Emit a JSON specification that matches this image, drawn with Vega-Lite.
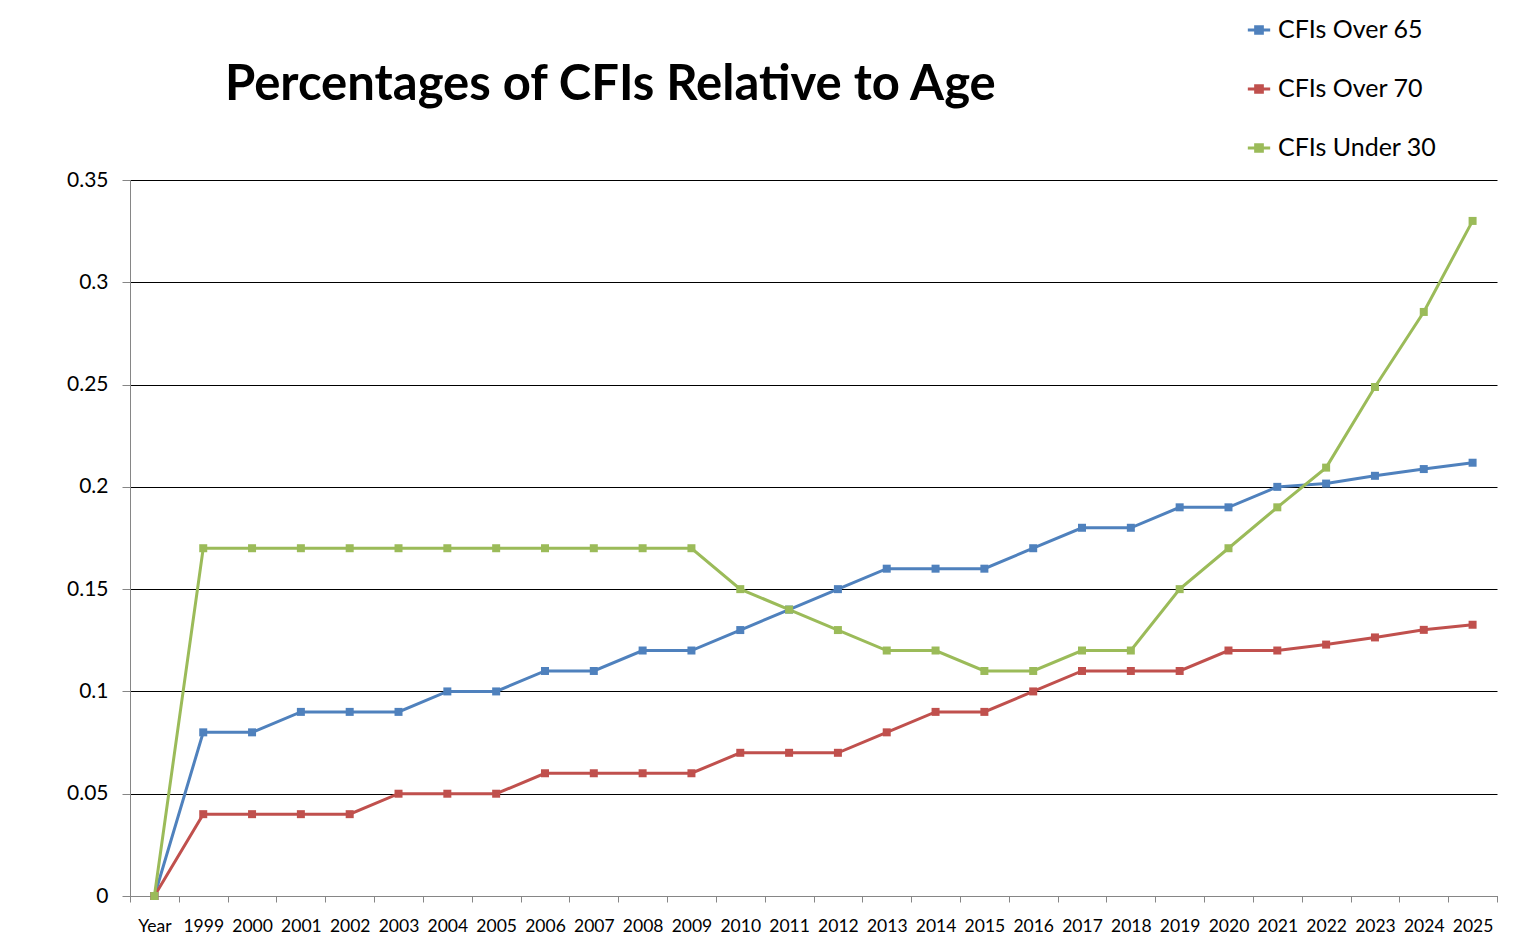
{
  "$schema": "https://vega.github.io/schema/vega-lite/v6.json",
  "width": 1367,
  "height": 716,
  "autosize": {"type": "none"},
  "padding": {"left": 130, "top": 180, "right": 36, "bottom": 56},
  "background": "white",
  "title": {
    "text": "Percentages of CFIs Relative to Age",
    "anchor": "start",
    "frame": "group",
    "dx": 95,
    "dy": 93,
    "offset": 0,
    "font": "Lato",
    "fontSize": 49,
    "fontWeight": "bold",
    "color": "black"
  },
  "data": {
    "values": [
      {"year": "Year", "series": "CFIs Over 65", "value": 0},
      {"year": "1999", "series": "CFIs Over 65", "value": 0.08},
      {"year": "2000", "series": "CFIs Over 65", "value": 0.08},
      {"year": "2001", "series": "CFIs Over 65", "value": 0.09},
      {"year": "2002", "series": "CFIs Over 65", "value": 0.09},
      {"year": "2003", "series": "CFIs Over 65", "value": 0.09},
      {"year": "2004", "series": "CFIs Over 65", "value": 0.10},
      {"year": "2005", "series": "CFIs Over 65", "value": 0.10},
      {"year": "2006", "series": "CFIs Over 65", "value": 0.11},
      {"year": "2007", "series": "CFIs Over 65", "value": 0.11},
      {"year": "2008", "series": "CFIs Over 65", "value": 0.12},
      {"year": "2009", "series": "CFIs Over 65", "value": 0.12},
      {"year": "2010", "series": "CFIs Over 65", "value": 0.13},
      {"year": "2011", "series": "CFIs Over 65", "value": 0.14},
      {"year": "2012", "series": "CFIs Over 65", "value": 0.15},
      {"year": "2013", "series": "CFIs Over 65", "value": 0.16},
      {"year": "2014", "series": "CFIs Over 65", "value": 0.16},
      {"year": "2015", "series": "CFIs Over 65", "value": 0.16},
      {"year": "2016", "series": "CFIs Over 65", "value": 0.17},
      {"year": "2017", "series": "CFIs Over 65", "value": 0.18},
      {"year": "2018", "series": "CFIs Over 65", "value": 0.18},
      {"year": "2019", "series": "CFIs Over 65", "value": 0.19},
      {"year": "2020", "series": "CFIs Over 65", "value": 0.19},
      {"year": "2021", "series": "CFIs Over 65", "value": 0.20},
      {"year": "2022", "series": "CFIs Over 65", "value": 0.2016},
      {"year": "2023", "series": "CFIs Over 65", "value": 0.2054},
      {"year": "2024", "series": "CFIs Over 65", "value": 0.2087},
      {"year": "2025", "series": "CFIs Over 65", "value": 0.2118},
      {"year": "Year", "series": "CFIs Over 70", "value": 0},
      {"year": "1999", "series": "CFIs Over 70", "value": 0.04},
      {"year": "2000", "series": "CFIs Over 70", "value": 0.04},
      {"year": "2001", "series": "CFIs Over 70", "value": 0.04},
      {"year": "2002", "series": "CFIs Over 70", "value": 0.04},
      {"year": "2003", "series": "CFIs Over 70", "value": 0.05},
      {"year": "2004", "series": "CFIs Over 70", "value": 0.05},
      {"year": "2005", "series": "CFIs Over 70", "value": 0.05},
      {"year": "2006", "series": "CFIs Over 70", "value": 0.06},
      {"year": "2007", "series": "CFIs Over 70", "value": 0.06},
      {"year": "2008", "series": "CFIs Over 70", "value": 0.06},
      {"year": "2009", "series": "CFIs Over 70", "value": 0.06},
      {"year": "2010", "series": "CFIs Over 70", "value": 0.07},
      {"year": "2011", "series": "CFIs Over 70", "value": 0.07},
      {"year": "2012", "series": "CFIs Over 70", "value": 0.07},
      {"year": "2013", "series": "CFIs Over 70", "value": 0.08},
      {"year": "2014", "series": "CFIs Over 70", "value": 0.09},
      {"year": "2015", "series": "CFIs Over 70", "value": 0.09},
      {"year": "2016", "series": "CFIs Over 70", "value": 0.10},
      {"year": "2017", "series": "CFIs Over 70", "value": 0.11},
      {"year": "2018", "series": "CFIs Over 70", "value": 0.11},
      {"year": "2019", "series": "CFIs Over 70", "value": 0.11},
      {"year": "2020", "series": "CFIs Over 70", "value": 0.12},
      {"year": "2021", "series": "CFIs Over 70", "value": 0.12},
      {"year": "2022", "series": "CFIs Over 70", "value": 0.1229},
      {"year": "2023", "series": "CFIs Over 70", "value": 0.1264},
      {"year": "2024", "series": "CFIs Over 70", "value": 0.1301},
      {"year": "2025", "series": "CFIs Over 70", "value": 0.1326},
      {"year": "Year", "series": "CFIs Under 30", "value": 0},
      {"year": "1999", "series": "CFIs Under 30", "value": 0.17},
      {"year": "2000", "series": "CFIs Under 30", "value": 0.17},
      {"year": "2001", "series": "CFIs Under 30", "value": 0.17},
      {"year": "2002", "series": "CFIs Under 30", "value": 0.17},
      {"year": "2003", "series": "CFIs Under 30", "value": 0.17},
      {"year": "2004", "series": "CFIs Under 30", "value": 0.17},
      {"year": "2005", "series": "CFIs Under 30", "value": 0.17},
      {"year": "2006", "series": "CFIs Under 30", "value": 0.17},
      {"year": "2007", "series": "CFIs Under 30", "value": 0.17},
      {"year": "2008", "series": "CFIs Under 30", "value": 0.17},
      {"year": "2009", "series": "CFIs Under 30", "value": 0.17},
      {"year": "2010", "series": "CFIs Under 30", "value": 0.15},
      {"year": "2011", "series": "CFIs Under 30", "value": 0.14},
      {"year": "2012", "series": "CFIs Under 30", "value": 0.13},
      {"year": "2013", "series": "CFIs Under 30", "value": 0.12},
      {"year": "2014", "series": "CFIs Under 30", "value": 0.12},
      {"year": "2015", "series": "CFIs Under 30", "value": 0.11},
      {"year": "2016", "series": "CFIs Under 30", "value": 0.11},
      {"year": "2017", "series": "CFIs Under 30", "value": 0.12},
      {"year": "2018", "series": "CFIs Under 30", "value": 0.12},
      {"year": "2019", "series": "CFIs Under 30", "value": 0.15},
      {"year": "2020", "series": "CFIs Under 30", "value": 0.17},
      {"year": "2021", "series": "CFIs Under 30", "value": 0.19},
      {"year": "2022", "series": "CFIs Under 30", "value": 0.2094},
      {"year": "2023", "series": "CFIs Under 30", "value": 0.2488},
      {"year": "2024", "series": "CFIs Under 30", "value": 0.2855},
      {"year": "2025", "series": "CFIs Under 30", "value": 0.330}
    ]
  },
  "encoding": {
    "x": {
      "field": "year",
      "type": "nominal",
      "sort": null,
      "scale": {"type": "band", "paddingInner": 0, "paddingOuter": 0},
      "axis": {
        "title": null,
        "labelAngle": 0,
        "tickBand": "extent",
        "grid": false,
        "domainColor": "#868686",
        "tickColor": "#868686",
        "tickSize": 6,
        "labelFont": "Lato",
        "labelFontSize": 17.5,
        "labelColor": "black",
        "labelPadding": 15
      }
    },
    "y": {
      "field": "value",
      "type": "quantitative",
      "scale": {"domain": [0, 0.35], "nice": false},
      "axis": {
        "title": null,
        "values": [0, 0.05, 0.1, 0.15, 0.2, 0.25, 0.3, 0.35],
        "format": "~g",
        "grid": true,
        "gridColor": "black",
        "gridOpacity": 1,
        "gridWidth": 1,
        "domainColor": "#868686",
        "tickColor": "#868686",
        "tickSize": 8,
        "labelFont": "Lato",
        "labelFontSize": 21,
        "labelColor": "black",
        "labelPadding": 14
      }
    },
    "color": {
      "field": "series",
      "type": "nominal",
      "scale": {
        "domain": ["CFIs Over 65", "CFIs Over 70", "CFIs Under 30"],
        "range": ["#4F81BD", "#C0504D", "#9BBB59"]
      },
      "legend": {
        "title": null,
        "orient": "none",
        "legendX": 1116,
        "legendY": -163,
        "labelFont": "Lato",
        "labelFontSize": 25,
        "labelColor": "black",
        "rowPadding": 33,
        "symbolSize": 500,
        "symbolType": "M-1,0L1,0M-0.3,-0.3L0.3,-0.3L0.3,0.3L-0.3,0.3Z",
        "symbolStrokeWidth": 3,
        "labelOffset": 6,
        "encode": {
          "symbols": {"update": {"fill": {"scale": "color", "field": "value"}, "stroke": {"scale": "color", "field": "value"}}}
        }
      }
    }
  },
  "layer": [
    {"mark": {"type": "line", "strokeWidth": 3}},
    {"mark": {"type": "square", "size": 64, "opacity": 1, "filled": true}}
  ],
  "config": {"view": {"stroke": null}}
}
